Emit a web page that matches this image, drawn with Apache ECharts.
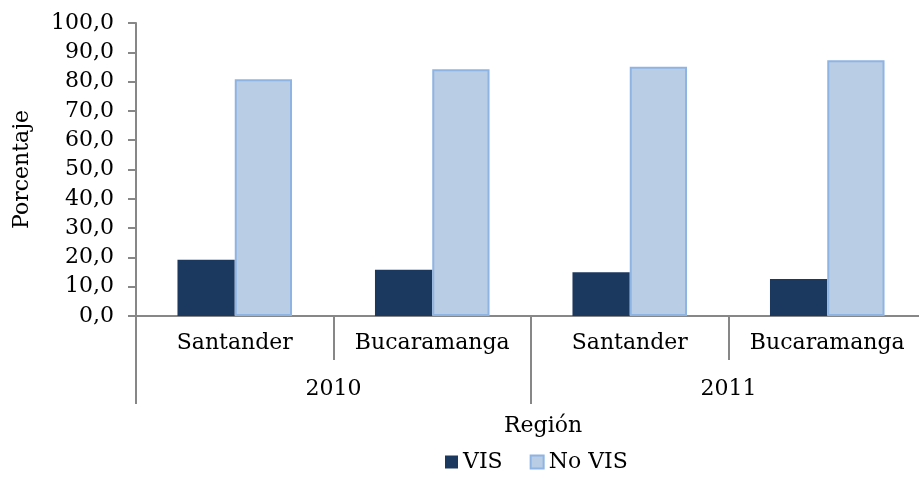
<!DOCTYPE html>
<html>
<head>
<meta charset="utf-8">
<script src="https://cdn.jsdelivr.net/npm/echarts@6/dist/echarts.min.js"></script>
<style>
  html, body { margin: 0; padding: 0; background: #fff; overflow: hidden; }
  #main { width: 930px; height: 479px; }
</style>
</head>
<body>
<div id="main"></div>
<script>
// datos
var regiones = ['Santander', 'Bucaramanga', 'Santander', 'Bucaramanga'];
var anios = ['2010', '2011'];
var vis = [19.2, 15.8, 14.9, 12.6];
var noVis = [80.8, 84.2, 85.1, 87.3];

var fuente = 'DejaVu Serif';
var gris = '#878787';

// el area de dibujo sale un poco del marco por la derecha, como en el original
var myChart = echarts.init(document.getElementById('main'));
var option = {
    textStyle: { fontFamily: fuente, color: '#000' },
    animation: false,
    grid: {
        left: 136,
        top: 23,
        width: 790,
        bottom: 163,
        containLabel: false
    },
    legend: {
        data: ['VIS', 'No VIS'],
        left: 440,
        bottom: 1,
        icon: 'rect',
        itemWidth: 13,
        itemHeight: 13,
        itemGap: 27,
        textStyle: { fontFamily: fuente, fontSize: 22, color: '#000', padding: [0, 0, 0, 0] }
    },
    graphic: [{
        type: 'text',
        left: 504,
        top: 415,
        style: { text: 'Región', font: '22px "DejaVu Serif"', fill: '#000' }
    }],
    xAxis: [{
        type: 'category',
        data: regiones,
        position: 'bottom',
        axisLine: { lineStyle: { color: gris, width: 2 } },
        axisTick: { show: true, interval: 0, length: 44, lineStyle: { color: gris, width: 2 } },
        axisLabel: { interval: 0, margin: 16, fontSize: 22, color: '#000', fontFamily: fuente }
    }, {
        type: 'category',
        data: anios,
        position: 'bottom',
        axisLine: { show: false },
        axisTick: { show: true, interval: 0, length: 88, lineStyle: { color: gris, width: 2 } },
        axisLabel: { interval: 0, margin: 62, fontSize: 22, color: '#000', fontFamily: fuente }
    }],
    yAxis: [{
        type: 'value',
        min: 0,
        max: 100,
        interval: 10,
        name: 'Porcentaje',
        nameLocation: 'middle',
        nameGap: 103,
        nameTextStyle: { fontSize: 22, color: '#000', fontFamily: fuente },
        axisLine: { show: true, lineStyle: { color: gris, width: 2 } },
        axisTick: { show: true, length: 8, lineStyle: { color: gris, width: 2 } },
        splitLine: { show: false },
        axisLabel: {
            margin: 22,
            fontSize: 22,
            color: '#000',
            fontFamily: fuente,
            formatter: function (v) { return v.toFixed(1).replace('.', ','); }
        }
    }],
    series: [{
        name: 'VIS',
        type: 'bar',
        xAxisIndex: 0,
        barGap: '0%',
        barCategoryGap: '42%',
        itemStyle: { color: '#1b385e' },
        data: vis
    }, {
        name: 'No VIS',
        type: 'bar',
        xAxisIndex: 0,
        barGap: '0%',
        barCategoryGap: '42%',
        itemStyle: { color: '#b9cde5', borderColor: '#8eb4e3', borderWidth: 2 },
        data: noVis
    }]
};
myChart.setOption(option);
</script>
</body>
</html>
